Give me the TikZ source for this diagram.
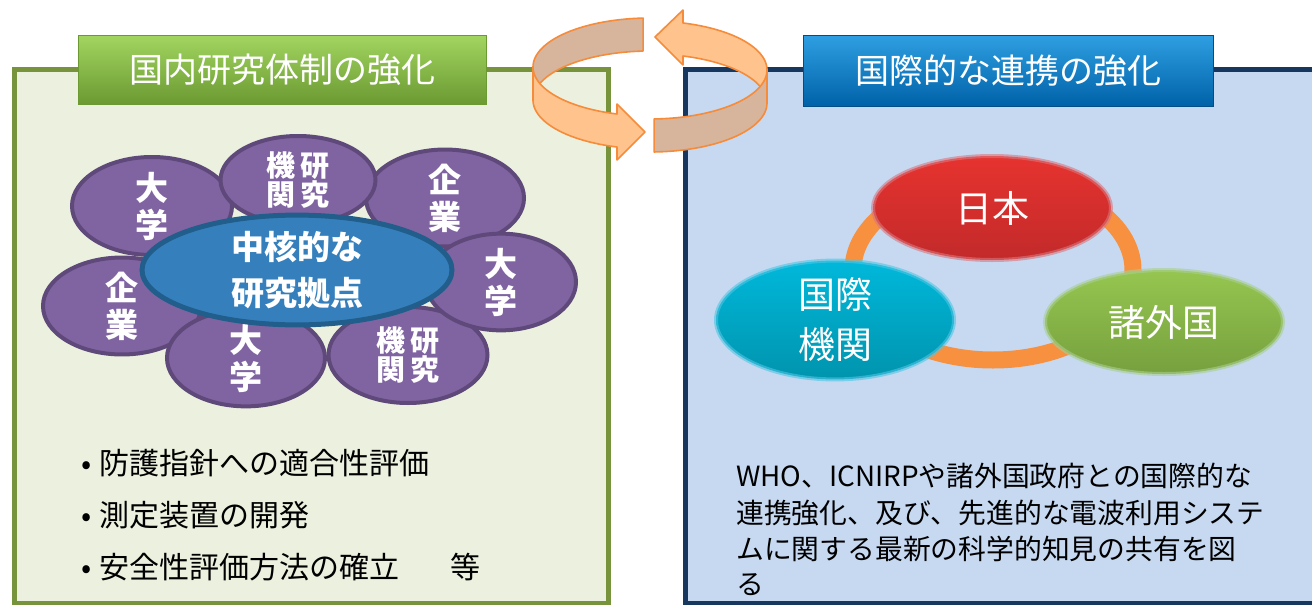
\documentclass[tikz,border=0pt]{standalone}
\usepackage{fontspec}
\newfontfamily\jp{Noto Sans CJK JP}
\usetikzlibrary{shapes.geometric}
\definecolor{lfill}{HTML}{EBF1DE}
\definecolor{lborder}{HTML}{77933C}
\definecolor{rfill}{HTML}{C6D9F1}
\definecolor{rborder}{HTML}{17375E}
\definecolor{purF}{HTML}{8064A2}
\definecolor{purB}{HTML}{5F497A}
\definecolor{coreF}{HTML}{3580BC}
\definecolor{coreB}{HTML}{215E8C}
\definecolor{arrO}{HTML}{F68B3A}
\definecolor{arrL}{HTML}{FFC48E}
\definecolor{arrT}{HTML}{D6B59C}
\definecolor{ringC}{HTML}{F7903F}
\definecolor{redT}{HTML}{E6332F}
\definecolor{redB}{HTML}{C22A2A}
\definecolor{cyT}{HTML}{00B8DA}
\definecolor{cyB}{HTML}{0094AE}
\definecolor{grT}{HTML}{96C650}
\definecolor{grB}{HTML}{76A03E}
\definecolor{gtT}{HTML}{A2D560}
\definecolor{gtB}{HTML}{6B9A32}
\definecolor{btT}{HTML}{2F9FE2}
\definecolor{btB}{HTML}{0062A8}
\begin{document}
\begin{tikzpicture}[x=1pt,y=-1pt,
  box/.style={rectangle, line width=5pt, inner sep=0pt},
  titlebox/.style={rectangle, minimum height=69pt, inner sep=0pt, text=white,
     font=\jp\fontsize{34}{40}\selectfont, line width=1pt},
  pel/.style={ellipse, draw=purB, line width=4pt, fill=purF, text=white,
     font=\jp\bfseries\fontsize{33}{37}\selectfont, align=center, inner sep=0pt},
  pel2/.style={pel, font=\jp\bfseries\fontsize{29}{29}\selectfont},
  softel/.style={ellipse, inner sep=0pt, minimum width=238pt, minimum height=104pt,
     text=white, font=\jp\fontsize{37}{50}\selectfont, align=center, line width=4pt},
  bul/.style={anchor=base west, inner sep=0pt, font=\jp\fontsize{30}{30}\selectfont},
  rtxt/.style={anchor=base west, inner sep=0pt, font=\jp\fontsize{27.8}{30}\selectfont},
  arr/.style={draw=arrO, line width=1.6pt, line join=round}
]
\useasboundingbox (0,0) rectangle (1312,605);
\fill[white] (0,0) rectangle (1312,605);

% boxes
\node[box, draw=lborder, fill=lfill, minimum width=594pt, minimum height=534pt] (lbox) at (311,336) {};
\node[box, draw=rborder, fill=rfill, minimum width=645pt, minimum height=534pt] (rbox) at (1007.5,336) {};

% titles
\node[titlebox, minimum width=408pt, top color=gtT, bottom color=gtB, draw=gtB] (ltitle) at (282,69.5) {国内研究体制の強化};
\node[titlebox, minimum width=410pt, minimum height=71pt, top color=btT, bottom color=btB, draw=btB!80!black] (rtitle) at (1008,70.5) {国際的な連携の強化};

% cycle arrows
\path[arr, fill=arrT]
  plot[domain=266.6:180, samples=40] ({650+117*cos(\x)},{67+49*sin(\x)})
  -- plot[domain=180:266.6, samples=40] ({650+117*cos(\x)},{100+49*sin(\x)}) -- cycle;
\path[arr, fill=arrL]
  plot[domain=180:106.4, samples=40] ({650+117*cos(\x)},{67+49*sin(\x)})
  -- (617,104) -- (645,132) -- (617,160)
  -- plot[domain=106.4:180, samples=40] ({650+117*cos(\x)},{100+49*sin(\x)}) -- cycle;
\path[arr, fill=arrL]
  (683,10) -- (655,37) -- (683,65)
  -- plot[domain=286.4:360, samples=40] ({650+117*cos(\x)},{103+49*sin(\x)})
  -- plot[domain=360:286.4, samples=40] ({650+117*cos(\x)},{70+49*sin(\x)}) -- cycle;
\path[arr, fill=arrT]
  plot[domain=0:88, samples=40] ({650+117*cos(\x)},{70+49*sin(\x)})
  -- plot[domain=88:0, samples=40] ({650+117*cos(\x)},{103+49*sin(\x)}) -- cycle;

% left cluster
\node[pel, minimum width=160pt, minimum height=98pt] (u1) at (152,206) {大\\学};
\node[pel, minimum width=158pt, minimum height=96pt] (c1) at (445,198) {企\\業};
\node[pel2, minimum width=155pt, minimum height=88pt] (r1) at (298,180) {機\hspace{5pt}研\\関\hspace{5pt}究};
\node[pel, minimum width=158pt, minimum height=96pt] (c2) at (122,306) {企\\業};
\node[pel, minimum width=158pt, minimum height=92pt] (u3) at (246,358) {大\\学};
\node[pel2, minimum width=159pt, minimum height=96pt] (r2) at (408,355) {機\hspace{5pt}研\\関\hspace{5pt}究};
\node[pel, minimum width=150pt, minimum height=96pt] (u2) at (501,282) {大\\学};
\node[ellipse, draw=coreB, line width=5pt, fill=coreF, minimum width=310pt, minimum height=96pt,
  inner sep=0pt, text=white, align=center, font=\jp\bfseries\fontsize{33}{46}\selectfont] (core) at (297,270) {中核的な\\研究拠点};

% bullets
\node[bul] (b1) at (74,474) {\makebox[25pt][c]{•}防護指針への適合性評価};
\node[bul] (b2) at (74,526) {\makebox[25pt][c]{•}測定装置の開発};
\node[bul] (b3) at (74,578) {\makebox[25pt][c]{•}安全性評価方法の確立\hspace{51pt}等};

% right triangle
\draw[ringC, line width=17pt] (993,270) ellipse [x radius=140, y radius=90];
\node[softel, top color=redT, bottom color=redB, draw=redT!60!rfill, draw opacity=.6] (jpn) at (992,208) {日本};
\node[softel, top color=cyT, bottom color=cyB, draw=cyT!60!rfill, draw opacity=.6] (io) at (835,320) {国際\\機関};
\node[softel, top color=grT, bottom color=grB, draw=grT!60!rfill, draw opacity=.6] (fc) at (1164,322) {諸外国};

% right text
\node[rtxt] (t1) at (736,486.5) {WHO、ICNIRPや諸外国政府との国際的な};
\node[rtxt] (t2) at (736,523.5) {連携強化、及び、先進的な電波利用システ};
\node[rtxt] (t3) at (736,559.5) {ムに関する最新の科学的知見の共有を図};
\node[rtxt] (t4) at (736,594.5) {る};
\end{tikzpicture}
\end{document}
